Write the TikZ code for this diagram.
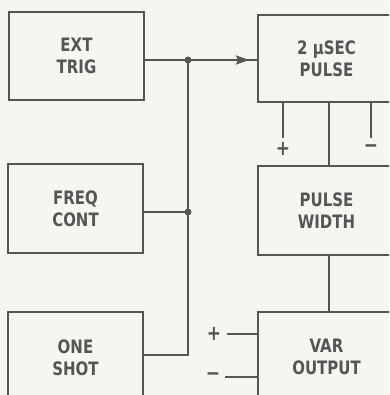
\documentclass[tikz,border=0pt]{standalone}
\usepackage{fontspec}
\setmainfont{DejaVu Sans Condensed}[FakeStretch=0.9]
\usetikzlibrary{arrows.meta}
\definecolor{ink}{HTML}{555555}
\definecolor{paper}{HTML}{F6F6F0}
\begin{document}
\begin{tikzpicture}[x=1pt,y=-1pt,
  blk/.style={draw=ink,line width=2.5pt,minimum width=#1,align=center,text=ink,
    font=\fontsize{18.5}{22}\selectfont\bfseries,inner sep=0pt},
  wire/.style={draw=ink,line width=2.5pt},
  sgn/.style={text=ink,font=\fontsize{21}{21}\selectfont\bfseries,inner sep=0pt},
  dot/.style={circle,fill=ink,inner sep=0pt,minimum size=7pt}]
\fill[paper] (0,0) rectangle (389,395);
\useasboundingbox (0,0) rectangle (389,395);
\clip (0,0) rectangle (389,395);
% left column
\node[blk=135pt,minimum height=88pt] (ext) at (76.5,56) {EXT\\TRIG};
\node[blk=135pt,minimum height=89pt] (freq) at (75.5,208.5) {FREQ\\CONT};
\node[blk=135pt,minimum height=91pt] (one) at (75.5,357.5) {ONE\\SHOT};
% right column
\node[blk=137pt,minimum height=87pt] (pulse) at (326.5,58.5) {2 µSEC\\PULSE};
\node[blk=137pt,minimum height=89pt] (pw) at (326.5,210.5) {PULSE\\WIDTH};
\node[blk=137pt,minimum height=90pt] (var) at (326.5,357) {VAR\\OUTPUT};
% junctions
\coordinate (j1) at (188,60);
\coordinate (j2) at (188,212);
\coordinate (j3) at (188,355);
\coordinate (ah) at (249,60);
\draw[wire] (ext.east |- j1) -- (j1);
\draw[wire] (j1) -- (pulse.west |- j1);
\draw[wire,-{Stealth[length=13pt,width=9pt,inset=2pt]}] (j1) -- (ah);
\draw[wire] (freq.east |- j2) -- (j2);
\draw[wire] (one.east |- j3) -- (j3) -- (j1);
\node[dot] at (j1) {};
\node[dot] at (j2) {};
% pulse stubs
\coordinate (sp) at (283,138);
\coordinate (sm) at (371,138);
\draw[wire] (pulse.south -| sp) -- (sp);
\draw[wire] (pulse.south -| sm) -- (sm);
\node[sgn] (plus1) at (283,149) {+};
\node[sgn] (minus1) at (371,149) {−};
\coordinate (mid) at (329,0);
\draw[wire] (pulse.south -| mid) -- (pw.north -| mid);
\draw[wire] (pw.south -| mid) -- (var.north -| mid);
% var inputs
\coordinate (vp) at (227,334);
\coordinate (vm) at (225,377);
\draw[wire] (vp) -- (var.west |- vp);
\draw[wire] (vm) -- (var.west |- vm);
\node[sgn] (plus2) at (214,334) {+};
\node[sgn] (minus2) at (213,377) {−};
\end{tikzpicture}
\end{document}
